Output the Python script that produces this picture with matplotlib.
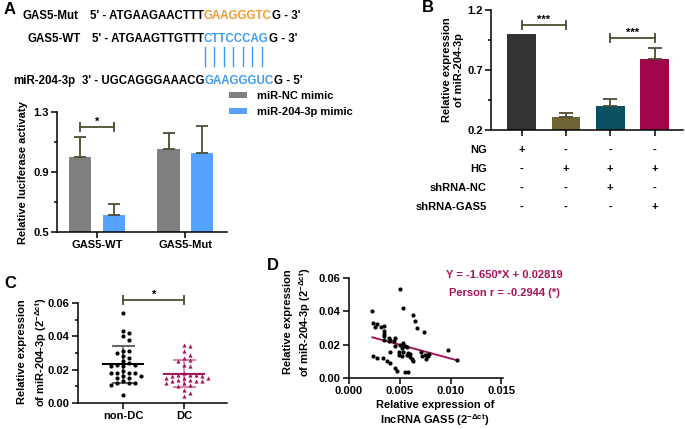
import numpy as np
import matplotlib.pyplot as plt
from matplotlib.transforms import blended_transform_factory

plt.rcParams["font.family"] = ["Liberation Sans", "DejaVu Sans"]
plt.rcParams["font.weight"] = "bold"
plt.rcParams["font.size"] = 8
plt.rcParams["axes.linewidth"] = 1.1
plt.rcParams["mathtext.fontset"] = "custom"
plt.rcParams["mathtext.rm"] = "Liberation Sans:bold"
plt.rcParams["mathtext.bf"] = "Liberation Sans:bold"
plt.rcParams["mathtext.it"] = "Liberation Sans:bold"

W, H = 685, 429

# --- A: luciferase assay
luc_groups = ["GAS5-WT", "GAS5-Mut"]
luc_series = ["miR-NC mimic", "miR-204-3p mimic"]
luc_nc = [1.00, 1.056]
luc_nc_err = [0.133, 0.104]
luc_mimic = [0.616, 1.029]
luc_mimic_err = [0.071, 0.176]

# --- B: miR-204-3p expression
expr_vals = [1.00, 0.306, 0.397, 0.789]
expr_err = [0.0, 0.038, 0.061, 0.092]
cond_rows = ["NG", "HG", "shRNA-NC", "shRNA-GAS5"]
cond_signs = [["+", "-", "-", "-"],
              ["-", "+", "+", "+"],
              ["-", "-", "+", "-"],
              ["-", "-", "-", "+"]]

# --- C: patients
non_dc = [0.054, 0.043, 0.042, 0.040, 0.038, 0.031, 0.031, 0.030, 0.028, 0.027,
          0.025, 0.024, 0.023, 0.023, 0.022, 0.022, 0.019, 0.018, 0.018, 0.018,
          0.018, 0.016, 0.016, 0.015, 0.015, 0.013, 0.012, 0.012, 0.012, 0.011,
          0.005]
dc = [0.035, 0.034, 0.031, 0.029, 0.027, 0.026, 0.025, 0.023, 0.022, 0.016,
      0.015, 0.018, 0.017, 0.017, 0.017, 0.016, 0.015, 0.015, 0.014, 0.014,
      0.013, 0.013, 0.013, 0.012, 0.012, 0.011, 0.010, 0.008, 0.006, 0.004]

# --- D: correlation
gas5_x = [0.0023, 0.0024, 0.0028, 0.0026, 0.0031, 0.0034, 0.0034, 0.0034, 0.0034,
          0.0034, 0.0039, 0.0040, 0.0044, 0.0045, 0.0039, 0.0040, 0.0045, 0.0050,
          0.0052, 0.0049, 0.0052, 0.0053, 0.0055, 0.0057, 0.0058, 0.0060, 0.0062,
          0.0063, 0.0050, 0.0053, 0.0063, 0.0065, 0.0067, 0.0074, 0.0071, 0.0072,
          0.0075, 0.0077, 0.0076, 0.0078, 0.0079, 0.0097, 0.0106, 0.0024, 0.0028,
          0.0033, 0.0037, 0.0040, 0.0045, 0.0047, 0.0055, 0.0058, 0.0049, 0.0060,
          0.0053, 0.0057]
mir_y = [0.0400, 0.0330, 0.0325, 0.0306, 0.0306, 0.0310, 0.0280, 0.0265, 0.0250,
         0.0230, 0.0240, 0.0230, 0.0220, 0.0238, 0.0220, 0.0156, 0.0190, 0.0200,
         0.0180, 0.0140, 0.0130, 0.0156, 0.0190, 0.0140, 0.0150, 0.0128, 0.0113,
         0.0100, 0.0536, 0.0420, 0.0376, 0.0345, 0.0300, 0.0277, 0.0156, 0.0130,
         0.0136, 0.0140, 0.0113, 0.0130, 0.0144, 0.0166, 0.0110, 0.0130, 0.0120,
         0.0120, 0.0100, 0.0090, 0.0060, 0.0044, 0.0036, 0.0036, 0.0156, 0.0144,
         0.0210, 0.0185]
slope, intercept = -1.650, 0.02819

olive = "#4d4d30"
crimson = "#a8145a"

fig = plt.figure(figsize=(W / 100, H / 100), dpi=100)


def px_axes(x0, y0, x1, y1):
    return fig.add_axes([x0 / W, 1 - y1 / H, (x1 - x0) / W, (y1 - y0) / H])


def style(ax):
    ax.spines["top"].set_visible(False)
    ax.spines["right"].set_visible(False)
    ax.tick_params(width=1.1, length=4, pad=2)
    ax.tick_params(which="minor", width=1.1, length=2.5)
    ax.patch.set_alpha(0)


def bracket(ax, x0, x1, y, label):
    ax.plot([x0, x1], [y, y], color=olive, lw=1.3, clip_on=False)
    ax.plot([x0, x1], [y, y], ls="none", marker="|", ms=7, mew=1.3,
            color=olive, clip_on=False)
    ax.text((x0 + x1) / 2, y, label, ha="center", va="bottom", fontsize=8,
            clip_on=False)


def swarm(vals, ypx, step, dy):
    # simple row packing: offsets in pixels
    placed = []
    offs = []
    cands = [0.0] + [s * i * step for i in range(1, 12) for s in (1, -1)]
    for v in vals:
        for c in cands:
            if all(abs(c - o) >= step or abs(v - pv) * ypx >= dy
                   for o, pv in placed):
                break
        placed.append((c, v))
        offs.append(c)
    return np.array(offs)


# ---------------- A
axA = px_axes(57, 112, 227, 232)
style(axA)
gx = np.arange(len(luc_groups))
off, bw = 0.19, 0.25
axA.bar(gx - off, luc_nc, bw, color="#808080", label=luc_series[0])
axA.bar(gx + off, luc_mimic, bw, color="#55a3ff", label=luc_series[1])
axA.errorbar(gx - off, luc_nc, yerr=[np.zeros(2), luc_nc_err], fmt="none",
             ecolor=olive, elinewidth=1.3, capsize=4, capthick=1.3)
axA.errorbar(gx + off, luc_mimic, yerr=[np.zeros(2), luc_mimic_err], fmt="none",
             ecolor=olive, elinewidth=1.3, capsize=4, capthick=1.3)
axA.set_ylim(0.5, 1.3)
axA.set_xlim(-0.45, 1.47)
axA.set_yticks([0.5, 0.9, 1.3])
axA.set_yticks([0.7, 1.1], minor=True)
axA.set_xticks(gx, luc_groups)
bracket(axA, -off, off, 1.2, "*")
axA.legend(loc="upper left", bbox_to_anchor=(229 / W, 1 - 91 / H),
           bbox_transform=fig.transFigure, frameon=False, fontsize=8,
           handlelength=1.6, handleheight=0.45, handletextpad=0.9,
           labelspacing=0.55, borderpad=0, borderaxespad=0)

# ---------------- B
axB = px_axes(491, 10, 683, 130)
style(axB)
bx = np.arange(len(expr_vals))
axB.bar(bx, expr_vals, 0.65, color=["#333333", "#6e6436", "#0b4f63", "#a0064a"])
axB.errorbar(bx[1:], expr_vals[1:], yerr=[np.zeros(3), expr_err[1:]], fmt="none",
             ecolor=olive, elinewidth=1.3, capsize=5, capthick=1.3)
axB.set_ylim(0.2, 1.2)
axB.set_xlim(-0.69, 3.64)
axB.set_yticks([0.2, 0.7, 1.2])
axB.set_yticks([0.45, 0.95], minor=True)
axB.set_xticks(bx, [""] * 4)
bracket(axB, 0, 1, 1.075, "***")
bracket(axB, 2, 3, 0.964, "***")
tr = blended_transform_factory(axB.transData, axB.transAxes)
row_y = [-0.167, -0.325, -0.483, -0.642]
for r, (name, signs) in enumerate(zip(cond_rows, cond_signs)):
    axB.text(-0.021, row_y[r], name, transform=axB.transAxes, ha="right",
             va="center")
    for i, s in enumerate(signs):
        axB.text(bx[i], row_y[r], s, transform=tr, ha="center", va="center")

# ---------------- C
axC = px_axes(78, 303, 227, 403)
style(axC)
ypx = 100 / 0.06
for i, (vals, mk, col, sdcol) in enumerate([(non_dc, "o", "black", "#666666"),
                                            (dc, "^", crimson, "#d98ab0")]):
    v = np.sort(np.array(vals))[::-1]
    o = swarm(v, ypx, 6.0, 4.0) / 61.0
    axC.scatter(i + o, v, s=9, marker=mk, color=col, lw=0, zorder=3)
    m, sd = np.mean(v), np.std(v, ddof=1)
    axC.plot([i, i], [m - sd, m + sd], color=sdcol, lw=1.2, zorder=2)
    axC.plot([i - 0.17, i + 0.17], [m + sd, m + sd], color=sdcol, lw=1.5, zorder=2)
    axC.plot([i - 0.17, i + 0.17], [m - sd, m - sd], color=sdcol, lw=1.5, zorder=2)
    axC.plot([i - 0.33, i + 0.33], [m, m], color=col, lw=1.5, zorder=4)
axC.set_ylim(0, 0.06)
axC.set_xlim(-0.74, 1.70)
axC.set_yticks([0, 0.02, 0.04, 0.06], ["0.00", "0.02", "0.04", "0.06"])
axC.set_yticks([0.01, 0.03, 0.05], minor=True)
axC.set_xticks([0, 1], ["non-DC", "DC"])
bracket(axC, 0, 1, 0.0618, "*")

# ---------------- D
axD = px_axes(349, 278, 503, 378)
style(axD)
axD.scatter(gas5_x, mir_y, s=9, color="black", lw=0, zorder=3)
lx = np.array([min(gas5_x), max(gas5_x)])
axD.plot(lx, slope * lx + intercept, color=crimson, lw=1.4, zorder=2)
axD.set_xlim(0, 0.01515)
axD.set_ylim(0, 0.06)
axD.set_xticks([0, 0.005, 0.010, 0.015], ["0.000", "0.005", "0.010", "0.015"])
axD.set_yticks([0, 0.02, 0.04, 0.06], ["0.00", "0.02", "0.04", "0.06"])

# ---------------- overlay: panel letters, labels, sequences
ov = fig.add_axes([0, 0, 1, 1], zorder=10)
ov.set_xlim(0, W)
ov.set_ylim(H, 0)
ov.axis("off")

for letter, x, y in [("A", 4, 9), ("B", 422, 8), ("C", 4, 284), ("D", 267, 265)]:
    ov.text(x, y, letter, fontsize=12, ha="left", va="center")

ov.text(23, 173, "Relative luciferase activaty", rotation=90, ha="center",
        va="center")
ov.text(453, 70, "Relative expression\nof miR-204-3p", rotation=90,
        ha="center", va="center", linespacing=1.35)
ov.text(33, 352, "Relative expression\nof miR-204-3p (2$^{-Δct}$)", rotation=90,
        ha="center", va="center", linespacing=1.45)
ov.text(298, 322, "Relative expression\nof miR-204-3p (2$^{-Δct}$)", rotation=90,
        ha="center", va="center", linespacing=1.3)
ov.text(435, 414, "Relative expression of\nlncRNA GAS5 (2$^{-Δct}$)",
        ha="center", va="center", linespacing=1.25)
ov.text(504, 275, "Y = -1.650*X + 0.02819", color=crimson, ha="center",
        va="center")
ov.text(504, 293, "Person r = -0.2944 (*)", color=crimson, ha="center",
        va="center")

orange, blue = "#f39a2e", "#3d9bf2"
seqs = [
    ("GAS5-Mut", 23, 22, [("5' - ATGAAGAACTTT", "black"), ("GAAGGGTC", orange),
                          ("G - 3'", "black")]),
    ("GAS5-WT", 28, 45, [("5' - ATGAAGTTGTTT", "black"), ("CTTCCCAG", blue),
                         ("G - 3'", "black")]),
    ("miR-204-3p", 13, 87, [("3' - UGCAGGGAAACG", "black"), ("GAAGGGUC", blue),
                            ("G - 5'", "black")]),
]
seq_x = [90, 92, 82]
for (name, nx, y, parts), sx in zip(seqs, seq_x):
    ov.text(nx, y, name, ha="left", va="bottom", fontsize=8.3)
    t = ov.text(sx, y, parts[0][0], color=parts[0][1], ha="left", va="bottom",
                fontsize=8.3)
    for s, c in parts[1:]:
        t = ov.annotate(s, xy=(1, 0), xycoords=t, color=c, ha="left",
                        va="bottom", fontsize=8.3)
for xx in np.linspace(205, 262, 7):
    ov.plot([xx, xx], [47, 66], color=blue, lw=1)

fig.savefig("out.png", dpi=100)
